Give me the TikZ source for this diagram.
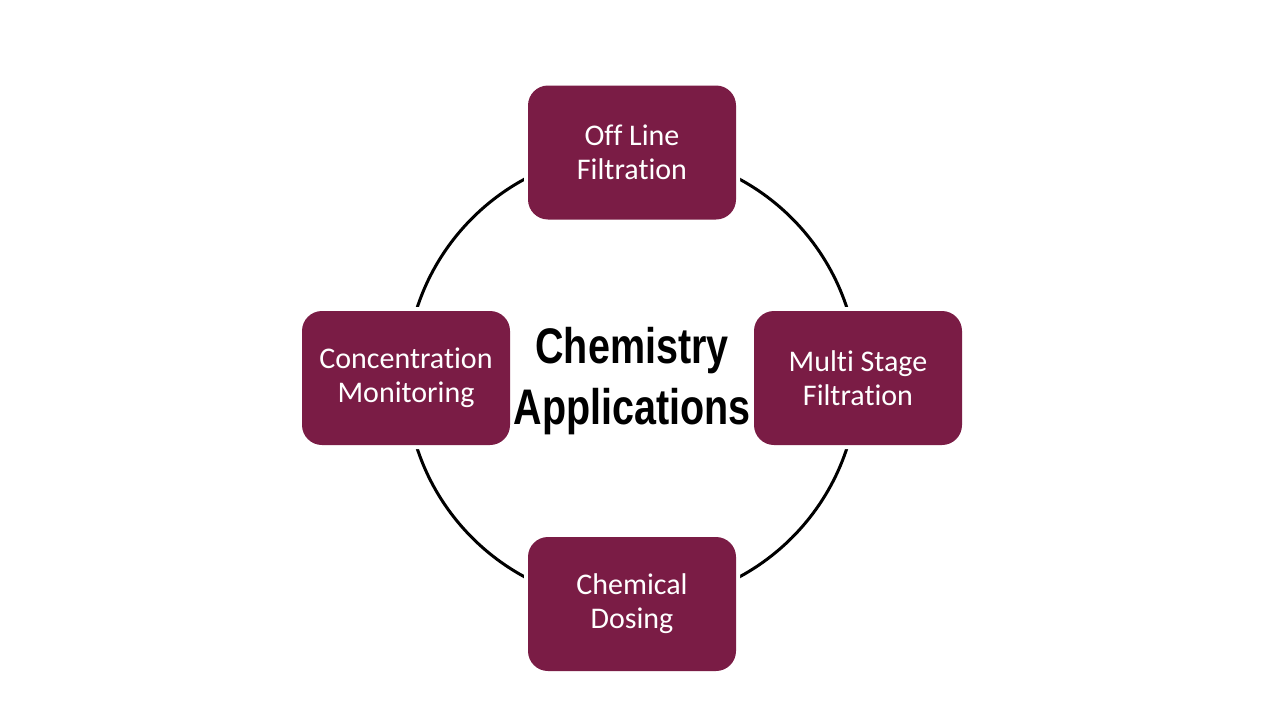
\documentclass[tikz,border=0pt]{standalone}
\usepackage{fontspec}
\setmainfont{Carlito}[Ligatures={NoCommon}]
\newfontfamily\condfont[FakeStretch=0.79]{Liberation Sans}
\definecolor{maroon}{HTML}{7A1C45}
\tikzset{
  appbox/.style={rectangle, rounded corners=20pt, fill=maroon, text=white,
    minimum width=208pt, minimum height=134pt, align=center, inner sep=0pt,
    font=\fontsize{30}{34}\selectfont,
    preaction={draw=white, line width=8pt}},
  ring/.style={draw=black, line width=3pt}
}
\begin{document}
\begin{tikzpicture}[x=1pt, y=-1pt]
\useasboundingbox[fill=white] (0,0) rectangle (1280,720);
\coordinate (c) at (632,378);
\draw[ring] (c) circle[radius=226pt];
\node[appbox] (top) at (632,152.5) {Off Line\\Filtration};
\node[appbox] (left) at (406,378) {Concentration\\Monitoring};
\node[appbox] (right) at (858,378) {Multi Stage\\Filtration};
\node[appbox] (bottom) at (632,604) {Chemical\\Dosing};
\node[align=center, font=\condfont\bfseries\fontsize{50}{61}\selectfont] (title) at (632,381) {Chemistry\\Applications};
\end{tikzpicture}
\end{document}
